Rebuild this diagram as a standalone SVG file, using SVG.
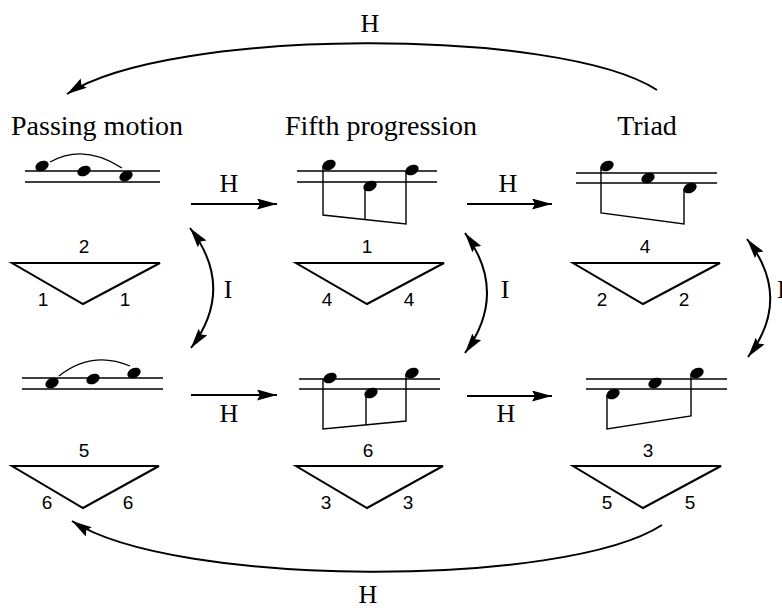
<svg xmlns="http://www.w3.org/2000/svg" width="782" height="608" viewBox="0 0 782 608">
<style>
.bg{fill:#fff}
.staff{stroke:#000;stroke-width:1.4;fill:none}
.stem{stroke:#000;stroke-width:1.4;fill:none}
.slur{stroke:#000;stroke-width:1.3;fill:none}
.tri{stroke:#000;stroke-width:2;fill:none;stroke-linejoin:miter}
.note{fill:#000}
.num{font-family:"Liberation Sans",Arial,sans-serif;font-size:19px;text-anchor:middle;fill:#000}
.title{font-family:"Liberation Serif","Times New Roman",serif;font-size:28px;text-anchor:middle;fill:#000}
.lbl{font-family:"Liberation Serif","Times New Roman",serif;font-size:26px;text-anchor:middle;fill:#000}
.conn{stroke:#000;stroke-width:2;fill:none}
</style>
<defs>
<marker id="ah" markerUnits="userSpaceOnUse" markerWidth="22" markerHeight="12" refX="20" refY="5.5" orient="auto-start-reverse" viewBox="0 0 22 12">
<path d="M0,0 L20,5.5 L0,11 L3,5.5 z" fill="#000"/>
</marker>
<ellipse id="nh" cx="0" cy="0" rx="7" ry="4.9" transform="rotate(-25)"/>
</defs>
<rect class="bg" x="0" y="0" width="782" height="608"/>

<g id="titles">
<text class="title" x="97" y="135">Passing motion</text>
<text class="title" x="381" y="135">Fifth progression</text>
<text class="title" x="647" y="135">Triad</text>
</g>

<g id="passing-top">
<line class="staff" x1="25" y1="171" x2="160" y2="171"/>
<line class="staff" x1="25" y1="182" x2="160" y2="182"/>
<use href="#nh" class="note" x="42" y="166"/>
<use href="#nh" class="note" x="84" y="171"/>
<use href="#nh" class="note" x="126" y="176"/>
<path class="slur" d="M50,162 Q84,143 122,168"/>
<path class="tri" d="M12,263 L160,263 L83,304 Z"/>
<text class="num" x="84" y="253">2</text>
<text class="num" x="43" y="306">1</text>
<text class="num" x="125" y="306">1</text>
</g>

<g id="fifth-top">
<line class="staff" x1="297" y1="171" x2="437" y2="171"/>
<line class="staff" x1="297" y1="182" x2="437" y2="182"/>
<use href="#nh" class="note" x="329" y="165"/>
<use href="#nh" class="note" x="370" y="186"/>
<use href="#nh" class="note" x="412" y="170"/>
<path class="stem" d="M323,166 L323,215 L406,224 L406,172 M365,188 L365,219"/>
<path class="tri" d="M296,263 L444,263 L367,304 Z"/>
<text class="num" x="367" y="253">1</text>
<text class="num" x="327" y="306">4</text>
<text class="num" x="409" y="306">4</text>
</g>

<g id="triad-top">
<line class="staff" x1="576" y1="173" x2="717" y2="173"/>
<line class="staff" x1="576" y1="183" x2="717" y2="183"/>
<use href="#nh" class="note" x="607" y="166"/>
<use href="#nh" class="note" x="648" y="178"/>
<use href="#nh" class="note" x="690" y="188"/>
<path class="stem" d="M601,167 L601,213 L684,224 L684,189"/>
<path class="tri" d="M573,263 L720,263 L643,304 Z"/>
<text class="num" x="645" y="253">4</text>
<text class="num" x="602" y="306">2</text>
<text class="num" x="684" y="306">2</text>
</g>

<g id="passing-bottom">
<line class="staff" x1="22" y1="378" x2="163" y2="378"/>
<line class="staff" x1="22" y1="389" x2="163" y2="389"/>
<use href="#nh" class="note" x="52" y="383"/>
<use href="#nh" class="note" x="93" y="379"/>
<use href="#nh" class="note" x="134" y="373"/>
<path class="slur" d="M59,376 Q92,350 130,366"/>
<path class="tri" d="M12,466 L159,466 L83,508 Z"/>
<text class="num" x="84" y="457">5</text>
<text class="num" x="47" y="509">6</text>
<text class="num" x="128" y="509">6</text>
</g>

<g id="fifth-bottom">
<line class="staff" x1="299" y1="379" x2="440" y2="379"/>
<line class="staff" x1="299" y1="389" x2="440" y2="389"/>
<use href="#nh" class="note" x="330" y="378"/>
<use href="#nh" class="note" x="371" y="393"/>
<use href="#nh" class="note" x="412" y="373"/>
<path class="stem" d="M323,379 L323,429 L406,421 L406,374 M366,394 L366,425"/>
<path class="tri" d="M296,466 L443,466 L367,508 Z"/>
<text class="num" x="368" y="457">6</text>
<text class="num" x="326" y="509">3</text>
<text class="num" x="408" y="509">3</text>
</g>

<g id="triad-bottom">
<line class="staff" x1="586" y1="379" x2="727" y2="379"/>
<line class="staff" x1="586" y1="389" x2="727" y2="389"/>
<use href="#nh" class="note" x="613" y="394"/>
<use href="#nh" class="note" x="655" y="383"/>
<use href="#nh" class="note" x="697" y="373"/>
<path class="stem" d="M607,395 L607,429 L691,416 L691,374"/>
<path class="tri" d="M573,466 L721,466 L643,508 Z"/>
<text class="num" x="648" y="457">3</text>
<text class="num" x="607" y="509">5</text>
<text class="num" x="690" y="509">5</text>
</g>

<g id="connectors">
<path class="conn" d="M657,90 C560,27 170,27 67,94" marker-end="url(#ah)"/>
<text class="lbl" x="370" y="32">H</text>
<path class="conn" d="M662,525 C565,588 175,588 72,521" marker-end="url(#ah)"/>
<text class="lbl" x="368" y="603">H</text>
<line class="conn" x1="191" y1="204" x2="277" y2="204" marker-end="url(#ah)"/>
<text class="lbl" x="229" y="192">H</text>
<line class="conn" x1="467" y1="204" x2="552" y2="204" marker-end="url(#ah)"/>
<text class="lbl" x="508" y="192">H</text>
<line class="conn" x1="191" y1="395" x2="277" y2="395" marker-end="url(#ah)"/>
<text class="lbl" x="229" y="422">H</text>
<line class="conn" x1="467" y1="396" x2="552" y2="396" marker-end="url(#ah)"/>
<text class="lbl" x="506" y="422">H</text>
<path class="conn" d="M190,228 Q236,288 191,348" marker-start="url(#ah)" marker-end="url(#ah)"/>
<text class="lbl" x="228" y="298">I</text>
<path class="conn" d="M465,233 Q509,293 465,353" marker-start="url(#ah)" marker-end="url(#ah)"/>
<text class="lbl" x="505" y="298">I</text>
<path class="conn" d="M747,239 Q793,298 748,357" marker-start="url(#ah)" marker-end="url(#ah)"/>
<text class="lbl" x="777" y="298" style="text-anchor:start">I</text>
</g>
</svg>
